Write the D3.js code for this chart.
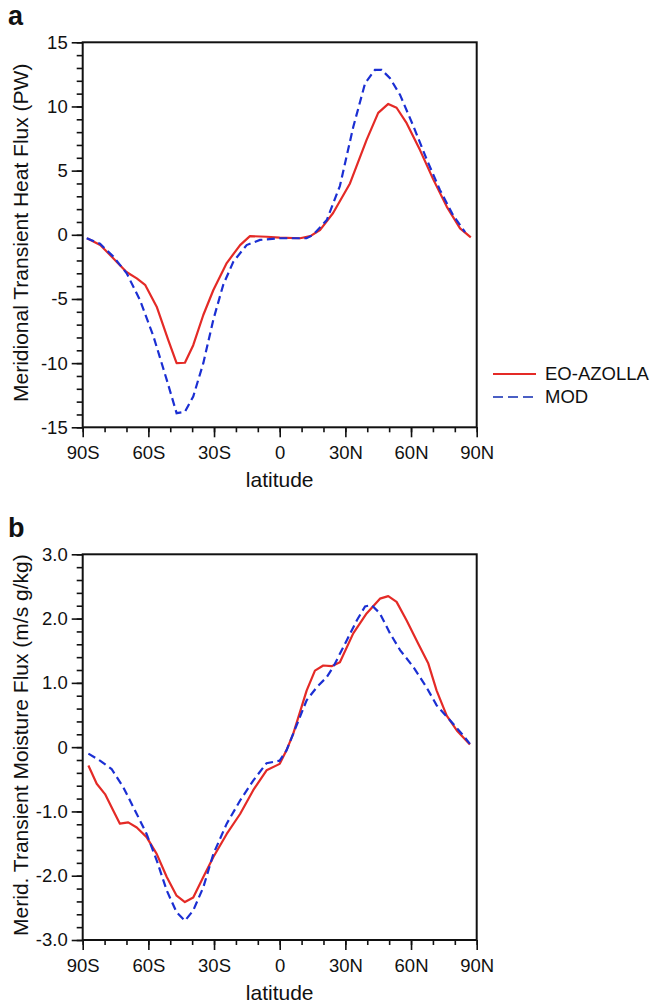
<!DOCTYPE html>
<html>
<head>
<meta charset="utf-8">
<script src="https://cdn.jsdelivr.net/npm/d3@7"></script>
<style>
  body { margin: 0; background: #fff; }
  svg { display: block; font-family: "Liberation Sans", Arial, Helvetica, sans-serif; }
</style>
</head>
<body>
<div id="chart"></div>
<script>
// latitude ticks (degrees, S negative)
var latTicks = [-90, -60, -30, 0, 30, 60, 90];

// panel a: meridional transient heat flux (PW)
var heatLatAzolla = [-88, -82, -77.5, -70, -65.3, -61.5, -56.2, -50.9, -47.1, -43.3, -39.5, -34.9, -30.3, -24.2, -18.1, -13.6, -6, 0, 9.3, 14, 18.4, 24.4, 32.1, 39.7, 45, 49.6, 53.4, 58, 64.1, 70.2, 76.3, 82.4, 87.3];
var heatAzolla = [-0.27, -0.8, -1.57, -2.9, -3.4, -3.9, -5.6, -8.2, -10.0, -9.97, -8.6, -6.25, -4.3, -2.2, -0.8, -0.1, -0.15, -0.22, -0.27, -0.1, 0.37, 1.7, 4.0, 7.4, 9.5, 10.2, 9.9, 8.7, 6.6, 4.3, 2.2, 0.5, -0.2];
var heatLatMod = [-88.2, -82.1, -76, -69.9, -63.8, -57.7, -51.6, -47.1, -43.3, -39.5, -34.9, -30.3, -25.8, -21.2, -15.1, -9, 0, 12.3, 15.3, 21.5, 27.5, 33.6, 39, 43.5, 46.6, 50.4, 55, 61, 67.1, 73.2, 79.3, 84.7];
var heatMod = [-0.27, -0.7, -1.7, -3.0, -5.1, -7.9, -11.3, -13.9, -13.8, -12.6, -10.0, -6.6, -3.9, -2.1, -0.8, -0.4, -0.27, -0.27, 0.0, 1.15, 3.8, 8.4, 11.8, 12.85, 12.85, 12.2, 10.9, 8.5, 5.9, 3.5, 1.5, 0.2];
var heatTicks = [-15, -10, -5, 0, 5, 10, 15];

// panel b: meridional transient moisture flux (m/s g/kg)
var moistLatAzolla = [-87.4, -83.6, -79.8, -76, -73, -69.2, -65.3, -60.8, -56.2, -51.6, -47.1, -43.3, -39.5, -34.9, -30.3, -24.2, -18.1, -12.1, -6, 0, 3.1, 6.2, 12.3, 16.1, 19.9, 23.7, 27.5, 33.6, 39.7, 45.8, 49.6, 53.4, 58, 63.3, 67.9, 71.7, 76.3, 80.9, 86.9];
var moistAzolla = [-0.285, -0.57, -0.73, -0.99, -1.19, -1.17, -1.25, -1.40, -1.66, -2.02, -2.31, -2.41, -2.34, -2.02, -1.71, -1.35, -1.04, -0.67, -0.36, -0.26, -0.05, 0.21, 0.88, 1.19, 1.27, 1.26, 1.32, 1.77, 2.08, 2.31, 2.35, 2.26, 1.97, 1.61, 1.30, 0.88, 0.49, 0.26, 0.04];
var moistLatMod = [-87.4, -82.1, -76.8, -71.5, -65.3, -60.8, -56.2, -51.6, -47.1, -43.3, -39.5, -34.9, -30.3, -24.2, -18.1, -12.1, -6, 0, 3.1, 6.2, 12.3, 16.9, 21.5, 24.5, 30.6, 35.2, 39, 42, 45.8, 50.4, 55, 61, 67.1, 71.7, 77.8, 83.9, 86.9];
var moistMod = [-0.10, -0.21, -0.34, -0.62, -1.04, -1.35, -1.76, -2.23, -2.57, -2.70, -2.54, -2.18, -1.66, -1.19, -0.83, -0.52, -0.25, -0.21, -0.05, 0.21, 0.73, 0.93, 1.09, 1.25, 1.66, 1.97, 2.19, 2.21, 2.08, 1.77, 1.51, 1.25, 0.93, 0.65, 0.42, 0.18, 0.05];
var moistTicks = [-3, -2, -1, 0, 1, 2, 3];

var seriesNames = ["EO-AZOLLA", "MOD"];
var red = "#e42a26", blue = "#1b2fd3";

var width = 652, height = 1005;
var left = 82.7, right = 476.7;

var svg = d3.select("#chart").append("svg")
    .attr("width", width)
    .attr("height", height);

function latFormat(d) {
    if (d < 0) return (-d) + "S";
    if (d > 0) return d + "N";
    return "0";
}

function drawPanel(opts) {
    var x = d3.scaleLinear().domain([-90, 90]).range([left, right]);
    var y = d3.scaleLinear().domain(opts.domain).range([opts.bottom, opts.top]);
    var g = svg.append("g");

    // minor ticks
    g.append("g")
        .attr("transform", "translate(0," + opts.bottom + ")")
        .call(d3.axisBottom(x).tickValues(d3.range(-90, 91, 10)).tickSize(5).tickFormat(""))
        .call(s => s.select(".domain").remove());
    g.append("g")
        .attr("transform", "translate(" + left + ",0)")
        .call(d3.axisLeft(y).tickValues(d3.range(opts.domain[0], opts.domain[1] + 1e-9, opts.minor)).tickSize(6).tickFormat(""))
        .call(s => s.select(".domain").remove());

    // major ticks
    var xAxis = g.append("g")
        .attr("transform", "translate(0," + opts.bottom + ")")
        .call(d3.axisBottom(x).tickValues(latTicks).tickSize(10).tickPadding(9).tickFormat(latFormat));
    var yAxis = g.append("g")
        .attr("transform", "translate(" + left + ",0)")
        .call(d3.axisLeft(y).tickValues(opts.ticks).tickSize(11).tickPadding(4).tickFormat(opts.format));

    [xAxis, yAxis].forEach(function (a) {
        a.selectAll("text").attr("fill", "#111").style("font-size", "18.5px");
        a.select(".domain").remove();
    });
    g.selectAll("g.tick line").attr("stroke", "#111").attr("stroke-width", 1.6);

    // frame
    g.append("rect")
        .attr("x", left).attr("y", opts.top)
        .attr("width", right - left).attr("height", opts.bottom - opts.top)
        .attr("fill", "none").attr("stroke", "#111").attr("stroke-width", 2);

    var line = d3.line()
        .x(d => x(d[0]))
        .y(d => y(d[1]));

    g.append("path")
        .datum(d3.zip(opts.latA, opts.valA))
        .attr("d", line)
        .attr("fill", "none")
        .attr("stroke", red)
        .attr("stroke-width", 2.2)
        .attr("stroke-linejoin", "round");

    g.append("path")
        .datum(d3.zip(opts.latB, opts.valB))
        .attr("d", line)
        .attr("fill", "none")
        .attr("stroke", blue)
        .attr("stroke-width", 2.2)
        .attr("stroke-dasharray", "8,4.5");

    // axis titles
    g.append("text")
        .attr("x", (left + right) / 2)
        .attr("y", opts.bottom + 59.5)
        .attr("text-anchor", "middle")
        .style("font-size", "21px")
        .attr("fill", "#111")
        .text("latitude");

    g.append("text")
        .attr("transform", "translate(28," + ((opts.top + opts.bottom) / 2 - 2) + ") rotate(-90)")
        .attr("text-anchor", "middle")
        .style("font-size", "21px")
        .attr("fill", "#111")
        .text(opts.ylabel);

    g.append("text")
        .attr("x", 8)
        .attr("y", opts.top - 17)
        .style("font-size", "27px")
        .style("font-weight", "bold")
        .attr("fill", "#111")
        .text(opts.letter);
}

drawPanel({
    top: 42.3, bottom: 427.3, domain: [-15, 15], minor: 1, ticks: heatTicks,
    format: d => String(d),
    latA: heatLatAzolla, valA: heatAzolla, latB: heatLatMod, valB: heatMod,
    ylabel: "Meridional Transient Heat Flux (PW)", letter: "a"
});

drawPanel({
    top: 554.3, bottom: 940, domain: [-3, 3], minor: 0.2, ticks: moistTicks,
    format: d => d === 0 ? "0" : d.toFixed(1),
    latA: moistLatAzolla, valA: moistAzolla, latB: moistLatMod, valB: moistMod,
    ylabel: "Merid. Transient Moisture Flux (m/s g/kg)", letter: "b"
});

// legend (panel a)
var legend = svg.append("g").attr("transform", "translate(493,374)");
seriesNames.forEach(function (name, i) {
    legend.append("line")
        .attr("x1", 0).attr("x2", 43)
        .attr("y1", i * 23).attr("y2", i * 23)
        .attr("stroke", i === 0 ? red : "#4a5fc4")
        .attr("stroke-width", 2.2)
        .attr("stroke-dasharray", i === 0 ? null : "10,5");
    legend.append("text")
        .attr("x", 52)
        .attr("y", i * 23 + 6)
        .style("font-size", "18.5px")
        .attr("fill", "#111")
        .text(name);
});
</script>
</body>
</html>
